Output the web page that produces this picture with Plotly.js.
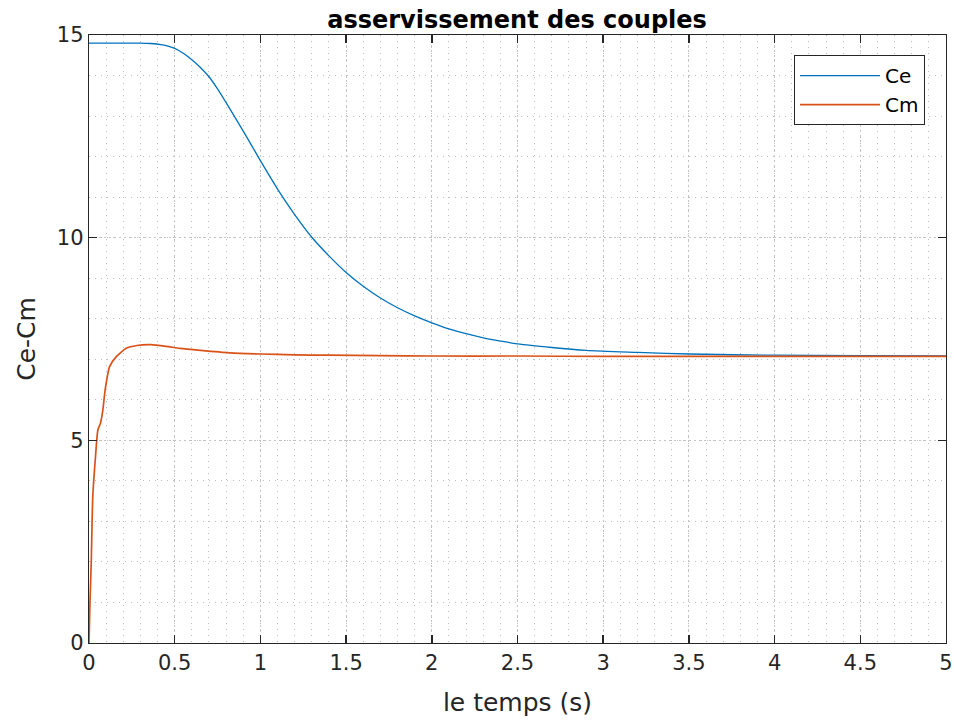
<!DOCTYPE html>
<html>
<head>
<meta charset="utf-8">
<script src="https://cdn.plot.ly/plotly-3.0.1.min.js"></script>
<style>html,body{margin:0;padding:0;background:#fff;}#chart{width:954px;height:720px;}</style>
</head>
<body>
<div id="chart"></div>
<script>
// Ce (electromagnetic torque) samples
const tCe = [0, 0.1, 0.2, 0.3, 0.36, 0.42, 0.5, 0.55, 0.6, 0.65, 0.7, 0.75, 0.8, 0.9, 1.0, 1.1, 1.2, 1.3, 1.4, 1.5, 1.6, 1.7, 1.8, 1.9, 2.0, 2.1, 2.2, 2.3, 2.4, 2.5, 2.7, 2.9, 3.2, 3.5, 4.0, 4.5, 5.0];
const Ce = [14.80, 14.80, 14.80, 14.80, 14.79, 14.76, 14.67, 14.55, 14.39, 14.20, 13.97, 13.67, 13.33, 12.63, 11.90, 11.20, 10.57, 10.01, 9.55, 9.14, 8.80, 8.51, 8.27, 8.07, 7.90, 7.75, 7.63, 7.53, 7.45, 7.38, 7.29, 7.22, 7.17, 7.13, 7.10, 7.09, 7.08];
// Cm samples
const tCm = [0, 0.005, 0.013, 0.022, 0.038, 0.052, 0.067, 0.081, 0.094, 0.12, 0.158, 0.217, 0.28, 0.36, 0.45, 0.53, 0.65, 0.82, 1.0, 1.2, 1.4, 1.7, 2.0, 2.5, 3.0, 3.5, 4.0, 4.5, 5.0];
const Cm = [0, 0.9, 1.97, 3.61, 4.60, 5.26, 5.42, 5.75, 6.24, 6.82, 7.06, 7.27, 7.34, 7.36, 7.32, 7.27, 7.22, 7.16, 7.13, 7.11, 7.10, 7.09, 7.08, 7.08, 7.07, 7.07, 7.07, 7.07, 7.07];
const xTicks = [0, 0.5, 1, 1.5, 2, 2.5, 3, 3.5, 4, 4.5, 5];
const xTickText = ['0', '0.5', '1', '1.5', '2', '2.5', '3', '3.5', '4', '4.5', '5'];
const yTicks = [0, 5, 10, 15];
const yTickText = ['0', '5', '10', '15'];

const FONT = 'DejaVu Sans, Arial, sans-serif';
const axisCommon = {
  showline: true, linecolor: '#262626', linewidth: 1.3, mirror: 'allticks',
  ticks: 'inside', ticklen: 8, tickwidth: 1.5, tickcolor: '#262626',
  showgrid: true, gridcolor: '#c4c4c4', griddash: '2px,3px', gridwidth: 1,
  zeroline: false, tickfont: {family: FONT, size: 21, color: '#262626'},
  tickmode: 'array'
};

const data = [
  {x: tCe, y: Ce, name: 'Ce', type: 'scatter', mode: 'lines', line: {color: '#0072BD', width: 1.3, shape: 'spline', smoothing: 0.8}},
  {x: tCm, y: Cm, name: 'Cm', type: 'scatter', mode: 'lines', line: {color: '#D95319', width: 1.7, shape: 'spline', smoothing: 0.6}}
];

const layout = {
  width: 954, height: 720,
  margin: {l: 89, r: 8, t: 35, b: 77},
  paper_bgcolor: '#ffffff', plot_bgcolor: '#ffffff',
  title: {text: '<b>asservissement des couples</b>', font: {family: FONT, size: 24, color: '#000'}, x: 0.542, xanchor: 'center', y: 0.985, yanchor: 'top'},
  xaxis: Object.assign({}, axisCommon, {
    range: [0, 5], tickvals: xTicks, ticktext: xTickText,
    minor: {dtick: 0.1, showgrid: true, gridcolor: '#bdbdbd', griddash: '1px,5px', gridwidth: 1, ticks: ''},
    title: {text: 'le temps (s)', font: {family: FONT, size: 25, color: '#262626'}, standoff: 20}
  }),
  yaxis: Object.assign({}, axisCommon, {
    range: [0, 15], tickvals: yTicks, ticktext: yTickText,
    minor: {dtick: 1, showgrid: true, gridcolor: '#bdbdbd', griddash: '1px,5px', gridwidth: 1, ticks: ''},
    title: {text: 'Ce-Cm', font: {family: FONT, size: 25, color: '#262626'}, standoff: 14}
  }),
  showlegend: true,
  legend: {x: 0.9755, xanchor: 'right', y: 0.967, yanchor: 'top', bgcolor: '#ffffff', bordercolor: '#262626', borderwidth: 1,
    font: {family: FONT, size: 20, color: '#000'}, itemwidth: 80, tracegroupgap: 0}
};

Plotly.newPlot('chart', data, layout, {displayModeBar: false, staticPlot: true});
</script>
</body>
</html>
